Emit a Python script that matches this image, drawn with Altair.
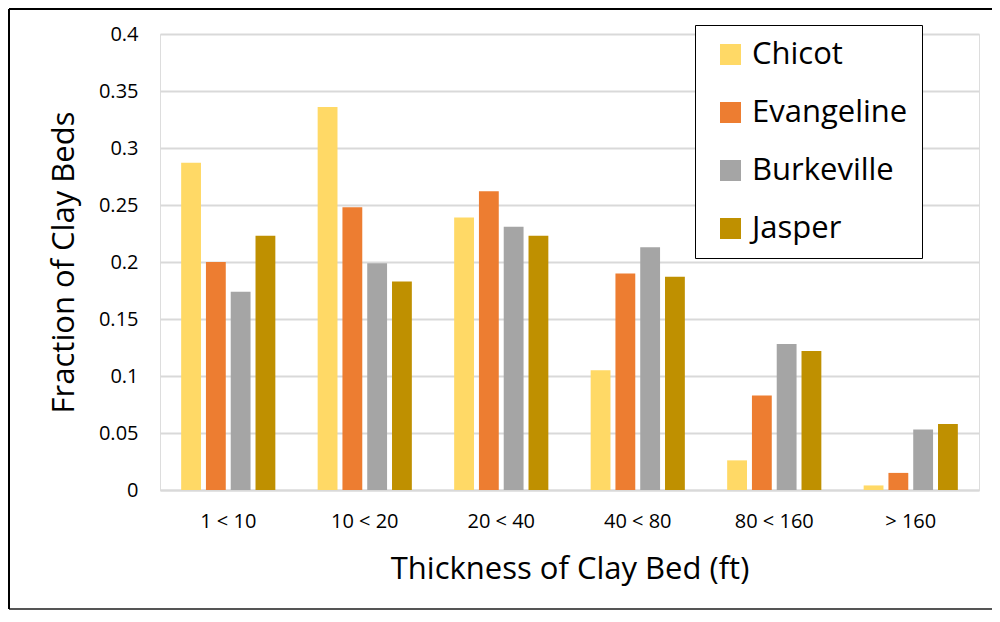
import altair as alt
import pandas as pd

categories = ["1 < 10", "10 < 20", "20 < 40", "40 < 80", "80 < 160", "> 160"]
series = ["Chicot", "Evangeline", "Burkeville", "Jasper"]
chicot = [0.287, 0.336, 0.239, 0.105, 0.026, 0.004]
evangeline = [0.200, 0.248, 0.262, 0.190, 0.083, 0.015]
burkeville = [0.174, 0.199, 0.231, 0.213, 0.128, 0.053]
jasper = [0.223, 0.183, 0.223, 0.187, 0.122, 0.058]
colors = ["#FFD966", "#ED7D31", "#A5A5A5", "#BF9000"]
y_ticks = [0, 0.05, 0.1, 0.15, 0.2, 0.25, 0.3, 0.35, 0.4]

rows = []
for s, vals in zip(series, [chicot, evangeline, burkeville, jasper]):
    for c, v in zip(categories, vals):
        rows.append({"Thickness": c, "Aquifer": s, "Fraction": v})
df = pd.DataFrame(rows)

FONT = "Open Sans"

bars = alt.Chart(df).mark_bar().encode(
    x=alt.X("Thickness:N", sort=categories,
            scale=alt.Scale(paddingInner=0.31, paddingOuter=0.155),
            axis=alt.Axis(title="Thickness of Clay Bed (ft)", labelAngle=0,
                          labelFontSize=20, labelFont=FONT, labelColor="black",
                          labelPadding=21, ticks=False,
                          domainColor="#D9D9D9", domainWidth=2,
                          titleFontSize=31, titleFont=FONT, titleFontWeight="normal",
                          titleColor="black", titlePadding=23)),
    xOffset=alt.XOffset("Aquifer:N", sort=series,
                        scale=alt.Scale(paddingInner=0.2)),
    y=alt.Y("Fraction:Q", scale=alt.Scale(domain=[0, 0.4], nice=False),
            axis=alt.Axis(title="Fraction of Clay Beds", values=y_ticks, format="~g",
                          labelFontSize=20, labelFont=FONT, labelColor="black",
                          labelPadding=22, ticks=False, domain=False,
                          gridColor="#D9D9D9", gridWidth=2,
                          titleFontSize=31, titleFont=FONT, titleFontWeight="normal",
                          titleColor="black", titlePadding=18)),
    color=alt.Color("Aquifer:N", sort=series,
                    scale=alt.Scale(domain=series, range=colors),
                    legend=alt.Legend(title=None, orient="none", legendX=535, legendY=-9,
                                      symbolType="square", symbolSize=441,
                                      symbolStrokeWidth=0, symbolOffset=6,
                                      labelFontSize=31, labelFont=FONT, labelColor="black",
                                      rowPadding=26, padding=14, labelOffset=6,
                                      fillColor="white", strokeColor="black",
                                      cornerRadius=0)),
)

dummy = pd.DataFrame({"a": [0]})
top_line = alt.Chart(dummy).mark_rule(color="black", strokeWidth=2).encode(
    x=alt.value(-151), x2=alt.value(835), y=alt.value(-25))
bottom_line = alt.Chart(dummy).mark_rule(color="#555555", strokeWidth=2).encode(
    x=alt.value(-151), x2=alt.value(835), y=alt.value(575))
left_line = alt.Chart(dummy).mark_rule(color="black", strokeWidth=2).encode(
    x=alt.value(-151), y=alt.value(-25), y2=alt.value(575))

chart = alt.layer(bars, top_line, bottom_line, left_line).properties(
    width=819, height=456,
    padding={"left": 152, "top": 26, "right": 13, "bottom": 122},
    autosize=alt.AutoSizeParams(type="none"),
).configure_view(stroke=None).configure(background="white")

chart.save("out.html", embed_options={"renderer": "svg", "actions": False})
